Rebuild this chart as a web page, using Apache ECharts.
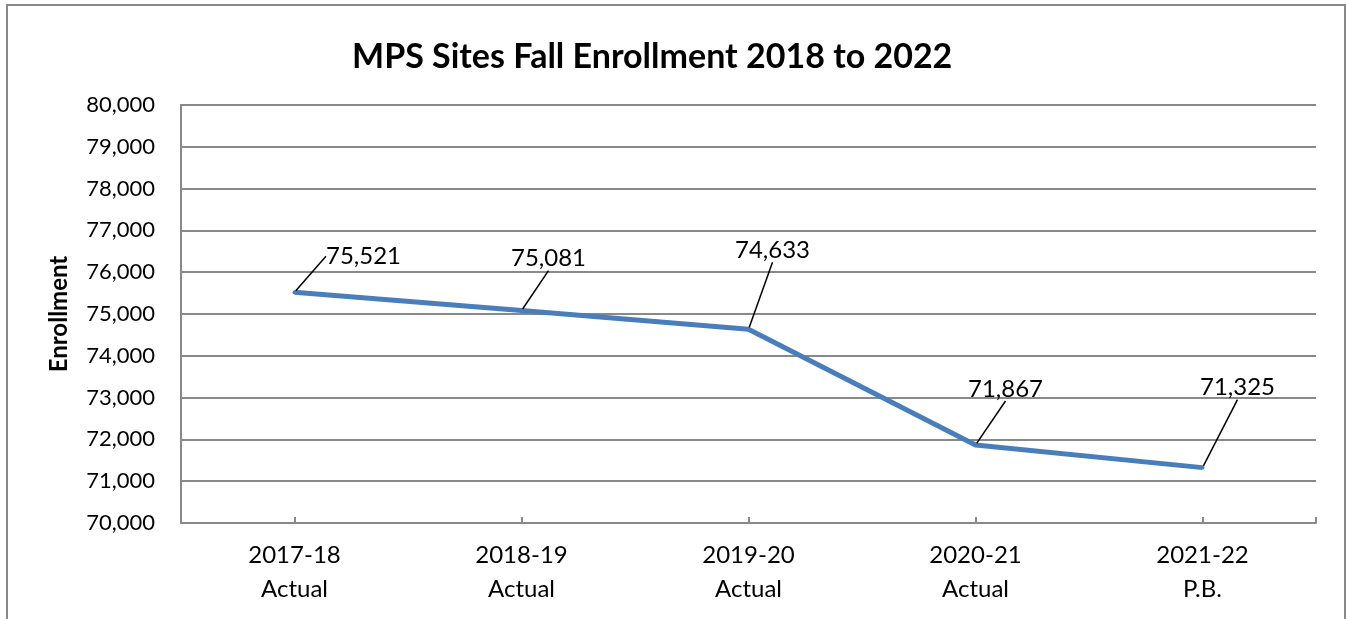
<!DOCTYPE html>
<html>
<head>
<meta charset="utf-8">
<script src="https://cdn.jsdelivr.net/npm/echarts@6/dist/echarts.min.js"></script>
<style>
  html, body { margin: 0; padding: 0; background: #fff; }
  #chart { width: 1348px; height: 619px; }
</style>
</head>
<body>
<div id="chart"></div>
<script>
var years = ['2017-18\nActual', '2018-19\nActual', '2019-20\nActual', '2020-21\nActual', '2021-22\nP.B.'];
var enrollment = [75521, 75081, 74633, 71867, 71325];

// where each data label sits, relative to its point (layout only)
var labelShift = [[69, -39], [27, -55], [24, -82], [30, -59], [35, -83]];

var fontName = 'Lato';
var gray = '#898989';

function comma(v) {
    return String(v).replace(/\B(?=(\d{3})+(?!\d))/g, ',');
}

var myChart = echarts.init(document.getElementById('chart'));
var option = {
    animation: false,
    backgroundColor: '#fff',
    title: {
        text: 'MPS Sites Fall Enrollment 2018 to 2022',
        left: 347,
        top: 35,
        textStyle: { fontFamily: fontName, fontSize: 34, fontWeight: 'bold', color: '#000' }
    },
    graphic: [{
        type: 'rect',
        shape: { x: 7, y: 5, width: 1338, height: 640 },
        style: { fill: null, stroke: gray, lineWidth: 2 },
        silent: true
    }, {
        // small end tick at the right of the category axis
        type: 'line',
        shape: { x1: 1316, y1: 523, x2: 1316, y2: 517 },
        style: { stroke: gray, lineWidth: 2 },
        silent: true
    }],
    grid: { left: 181, right: 32, top: 105, bottom: 96 },
    xAxis: {
        type: 'category',
        data: years,
        boundaryGap: true,
        axisLine: { lineStyle: { color: gray, width: 2 } },
        axisTick: { show: true, inside: true, alignWithLabel: true, length: 6, lineStyle: { color: gray, width: 2 } },
        axisLabel: { color: '#000', fontFamily: fontName, fontSize: 24, lineHeight: 34, margin: 15 }
    },
    yAxis: {
        type: 'value',
        min: 70000,
        max: 80000,
        interval: 1000,
        name: 'Enrollment',
        nameLocation: 'middle',
        nameGap: 110,
        nameTextStyle: { fontFamily: fontName, fontSize: 24, fontWeight: 'bold', color: '#000' },
        axisLine: { show: true, lineStyle: { color: gray, width: 2 } },
        axisTick: { show: false },
        splitLine: { lineStyle: { color: gray, width: 2 } },
        axisLabel: {
            color: '#000', fontFamily: fontName, fontSize: 22, margin: 26,
            formatter: function (v) { return comma(v); }
        }
    },
    series: [{
        type: 'line',
        data: enrollment,
        symbol: 'circle',
        symbolSize: 4,
        showSymbol: true,
        itemStyle: { color: '#4A7EBB' },
        lineStyle: { color: '#4A7EBB', width: 5 },
        label: {
            show: true,
            position: 'top',
            color: '#000',
            fontFamily: fontName,
            fontSize: 24,
            padding: [0, 0, 6, 0],
            formatter: function (p) { return comma(p.value); }
        },
        labelLine: { show: true, lineStyle: { color: '#000', width: 1.5 } },
        labelLayout: function (p) {
            var s = labelShift[p.dataIndex];
            var cx = p.rect.x + p.rect.width / 2;
            var cy = p.rect.y + p.rect.height / 2;
            return {
                x: cx + s[0],
                y: cy + s[1] + 3,
                align: 'center',
                verticalAlign: 'middle'
            };
        }
    }]
};
myChart.setOption(option);
</script>
</body>
</html>
